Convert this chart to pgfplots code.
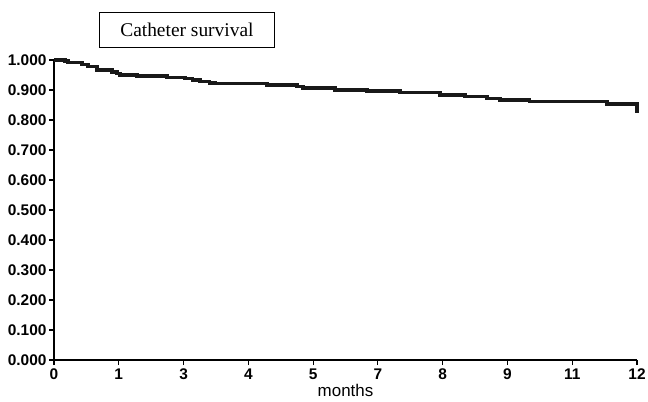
\documentclass[border=0pt]{standalone}
\usepackage{pgfplots}
\pgfplotsset{compat=1.18}
\usepackage{fontspec}
\setmainfont{Liberation Sans}
\newfontfamily\titlefont{Liberation Serif}

\begin{document}
\begin{tikzpicture}
\begin{axis}[
  scale only axis, width=583bp, height=300bp,
  xmin=0, xmax=12, ymin=0, ymax=1,
  axis lines=left, axis line style={line width=1.6pt, -},
  xtick={0,1.3333,2.6667,4,5.3333,6.6667,8,9.3333,10.6667,12},
  xticklabels={0,1,3,4,5,7,8,9,11,12},
  ytick={0,0.1,...,1.0},
  yticklabel={\pgfmathprintnumber[fixed,fixed zerofill,precision=3]{\tick}},
  /pgf/number format/assume math mode=true,
  tick style={line width=1.2pt, black},
  tick align=outside, major tick length=5bp,
  ticklabel style={font=\fontsize{15.5}{17}\selectfont\bfseries},
  xticklabel style={yshift=0bp},
  yticklabel style={xshift=1bp},
  xlabel={months},
  xlabel style={font=\fontsize{17}{19}\selectfont, yshift=2bp},
  clip=false,
]
\coordinate (o) at (rel axis cs:0,0);
\addplot[const plot, line width=3.6pt, color=black!90] coordinates {
(0,1.000)(0.23,0.997)(0.29,0.991)(0.58,0.985)(0.70,0.978)(0.88,0.967)
(1.19,0.960)(1.30,0.955)(1.36,0.950)(1.71,0.947)(2.33,0.942)(2.70,0.938)
(2.85,0.933)(3.00,0.928)(3.20,0.924)(3.31,0.922)(4.38,0.917)(5.00,0.911)
(5.12,0.906)(5.78,0.900)(6.44,0.897)(7.12,0.891)(7.94,0.883)(8.46,0.878)
(8.91,0.872)(9.18,0.867)(9.79,0.861)(11.38,0.853)(12.0,0.853)(12.0,0.823)};
\node[draw, line width=1pt, minimum width=175bp, minimum height=35bp,
  font=\titlefont\fontsize{19.5}{21}\selectfont]
  at (rel axis cs:0.228,1.1) {Catheter survival};
\end{axis}
\pgfresetboundingbox
\path ([xshift=-54bp,yshift=-42bp]o) rectangle ([xshift=594bp,yshift=360bp]o);
\end{tikzpicture}
\end{document}
